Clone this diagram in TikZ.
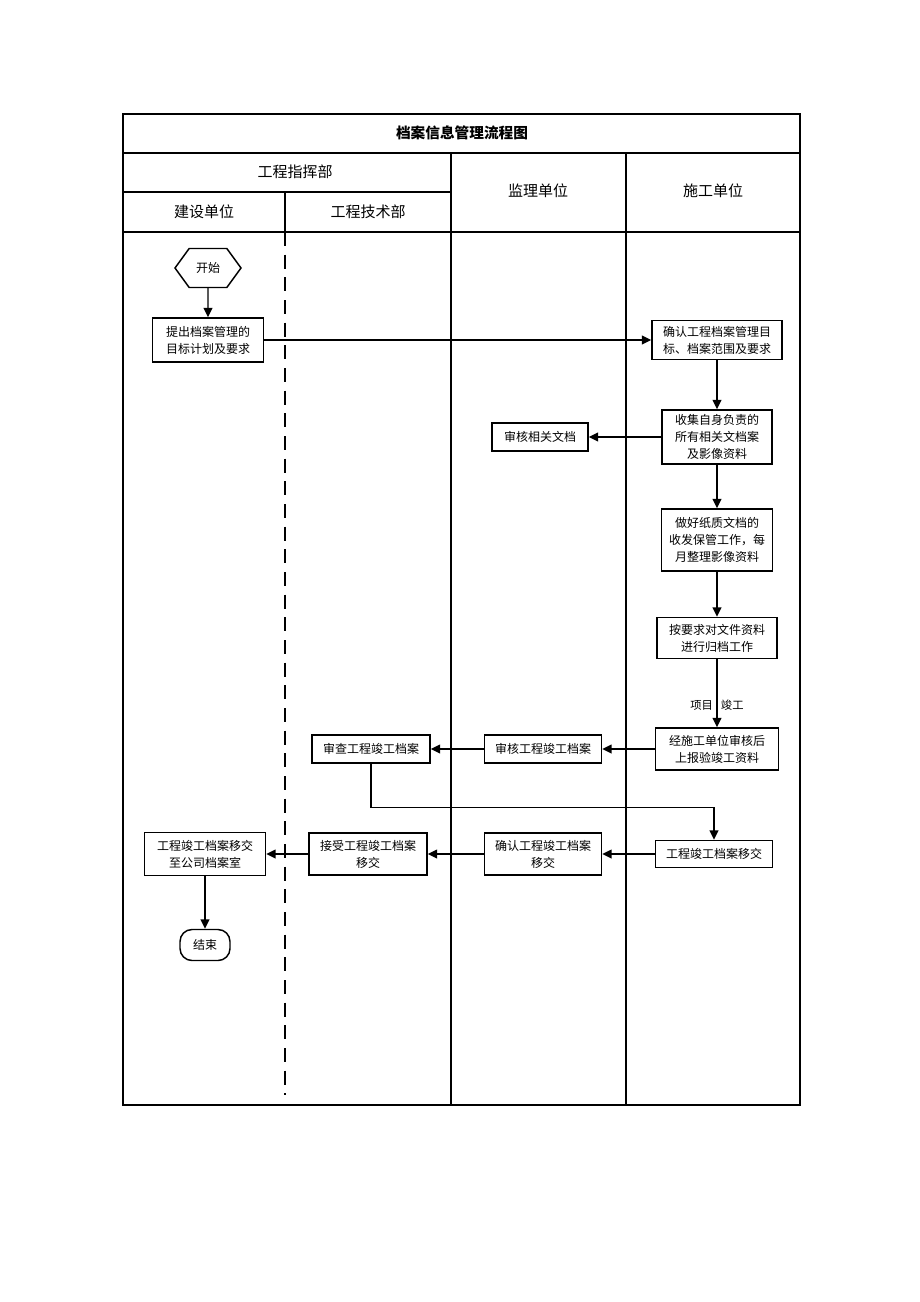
\documentclass[tikz,border=0pt]{standalone}
\usepackage{fontspec}
\setmainfont{Noto Sans CJK SC}
\usetikzlibrary{arrows.meta,shapes.symbols}
\tikzstyle{proc} = [draw=black, line width=1.1pt, fill=white, align=center, inner sep=1pt, font={\fontsize{9}{12.75}\selectfont}]
\tikzstyle{head} = [font={\fontsize{11.25}{13}\selectfont}]
\tikzstyle{titletext} = [font={\fontsize{11}{13}\selectfont\bfseries}]
\tikzstyle{lane} = [line width=1.8pt]
\tikzstyle{flow} = [-{Triangle[length=7pt,width=6.5pt]}, line width=1.1pt]

\begin{document}
\begin{tikzpicture}[x=0.75pt,y=-0.75pt]
    \useasboundingbox (0,0) rectangle (920,1302);
    \draw[line width=1.5pt] (123,114) rectangle (800,1105);
    \draw[line width=1.1pt] (123,153) -- (800,153);
    \draw[line width=1.1pt] (123,192) -- (451,192);
    \draw[line width=1.5pt] (123,232) -- (800,232);
    \draw[line width=1.1pt] (285,192) -- (285,232);
    \draw[lane] (451,153) -- (451,1105);
    \draw[lane] (626,153) -- (626,1105);
    \draw[lane,dash pattern=on 10.5pt off 6.5pt] (285,232) -- (285,1095);
    \node[titletext](t) at (462,133){档案信息管理流程图};
    \node[head](h1) at (295,172){工程指挥部};
    \node[head](h2) at (204,212){建设单位};
    \node[head](h3) at (368,212){工程技术部};
    \node[head](h4) at (538,191){监理单位};
    \node[head](h5) at (713,191){施工单位};
    \node[proc,signal,signal to=west and east,signal pointer angle=108,minimum width=49.5pt,minimum height=29.25pt](0) at (208,268){开始};
    \node[proc,minimum width=83.25pt,minimum height=33pt](1) at (208,340){提出档案管理的\\目标计划及要求};
    \node[proc,minimum width=97.5pt,minimum height=29.25pt](2) at (717,340){确认工程档案管理目\\标、档案范围及要求};
    \node[proc,minimum width=82.5pt,minimum height=40.5pt](3) at (717,437){收集自身负责的\\所有相关文档案\\及影像资料};
    \node[proc,minimum width=72pt,minimum height=21pt](4) at (540,437){审核相关文档};
    \node[proc,minimum width=83.25pt,minimum height=46.5pt](5) at (717,540){做好纸质文档的\\收发保管工作，每\\月整理影像资料};
    \node[proc,minimum width=90pt,minimum height=30.75pt](6) at (717,638){按要求对文件资料\\进行归档工作};
    \node[proc,minimum width=92.25pt,minimum height=31.5pt](7) at (717,749){经施工单位审核后\\上报验竣工资料};
    \node[proc,minimum width=87.75pt,minimum height=21pt](8) at (543,749){审核工程竣工档案};
    \node[proc,minimum width=88.5pt,minimum height=21pt](9) at (371,749){审查工程竣工档案};
    \node[proc,minimum width=87.75pt,minimum height=20.25pt](10) at (714,854){工程竣工档案移交};
    \node[proc,minimum width=87.75pt,minimum height=31.5pt](11) at (543,854){确认工程竣工档案\\移交};
    \node[proc,minimum width=88.5pt,minimum height=31.5pt](12) at (368,854){接受工程竣工档案\\移交};
    \node[proc,minimum width=90.75pt,minimum height=32.25pt](13) at (205,854){工程竣工档案移交\\至公司档案室};
    \node[proc,rounded corners=9pt,minimum width=37.5pt,minimum height=23.25pt](14) at (205,945){结束};
    \draw[flow](0)--(1);
    \draw[flow](1)--(2);
    \draw[flow](2)--(3);
    \draw[flow](3)--(4);
    \draw[flow](3)--(5);
    \draw[flow](5)--(6);
    \draw[flow](6)--node[pos=0.68,font={\fontsize{8.5}{10}\selectfont}]{项目\hspace{6pt}竣工}(7);
    \draw[flow](7)--(8);
    \draw[flow](8)--(9);
    \draw[flow](9.south)--++(0,44)-|(10.north);
    \draw[flow](10)--(11);
    \draw[flow](11)--(12);
    \draw[flow](12)--(13);
    \draw[flow](13)--(14);
  \end{tikzpicture}
\end{document}
